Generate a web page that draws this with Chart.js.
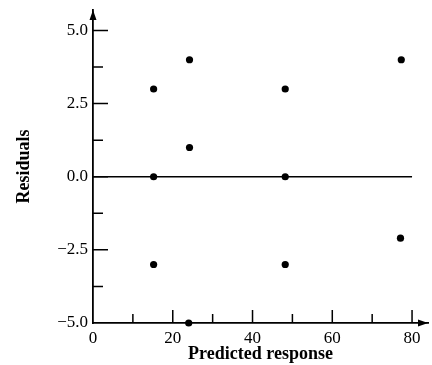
<!DOCTYPE html>
<html>
<head>
<meta charset="utf-8">
<script src="https://cdn.jsdelivr.net/npm/chart.js@4/dist/chart.umd.min.js"></script>
<style>
html,body{margin:0;padding:0;background:#fff;}
canvas{display:block;}
</style>
</head>
<body>
<canvas id="c" width="432" height="365"></canvas>
<script>
// ---- data ----
const predicted = [15.2, 15.2, 15.2, 24.2, 24.2, 24.0, 48.2, 48.2, 48.2, 77.3, 77.1];
const residuals = [3.0, 0.0, -3.0, 4.0, 1.0, -5.0, 3.0, 0.0, -3.0, 4.0, -2.1];
const xTickLabels = [0, 20, 40, 60, 80];
const xMinorTicks = [10, 30, 50, 70];
const yTickLabels = [-5, -2.5, 0, 2.5, 5];
const yMinorTicks = [-3.75, -1.25, 1.25, 3.75];
const zeroLineX = [0, 80];
const xTitle = 'Predicted response';
const yTitle = 'Residuals';

const serif = '"Liberation Serif", "DejaVu Serif", serif';

const points = predicted.map((x, i) => ({x: x, y: residuals[i]}));
const zeroLine = zeroLineX.map(x => ({x: x, y: 0}));

const axisDecor = {
  id: 'axisDecor',
  afterDatasetsDraw(chart) {
    const ctx = chart.ctx;
    const xs = chart.scales.x, ys = chart.scales.y;
    const x0 = xs.left, yb = ys.bottom;
    ctx.save();
    ctx.strokeStyle = '#000';
    ctx.fillStyle = '#000';
    ctx.lineWidth = 1.5;
    ctx.beginPath();
    xTickLabels.forEach(v => {
      if (v === xs.min) return;
      const px = xs.getPixelForValue(v);
      ctx.moveTo(px, yb); ctx.lineTo(px, yb - 13);
    });
    xMinorTicks.forEach(v => {
      const px = xs.getPixelForValue(v);
      ctx.moveTo(px, yb); ctx.lineTo(px, yb - 9);
    });
    yTickLabels.forEach(v => {
      if (v === ys.min) return;
      const py = ys.getPixelForValue(v);
      ctx.moveTo(x0, py); ctx.lineTo(x0 + 15, py);
    });
    yMinorTicks.forEach(v => {
      const py = ys.getPixelForValue(v);
      ctx.moveTo(x0, py); ctx.lineTo(x0 + 10, py);
    });
    ctx.stroke();
    // arrowheads
    const xr = xs.right, yt = ys.top;
    ctx.beginPath();
    ctx.moveTo(xr, yb); ctx.lineTo(xr - 10, yb - 3.5); ctx.lineTo(xr - 10, yb + 3.5); ctx.closePath();
    ctx.fill();
    ctx.beginPath();
    ctx.moveTo(x0, yt); ctx.lineTo(x0 - 3.5, yt + 10); ctx.lineTo(x0 + 3.5, yt + 10); ctx.closePath();
    ctx.fill();
    ctx.restore();
  }
};

new Chart(document.getElementById('c'), {
  type: 'scatter',
  data: {
    datasets: [
      {
        type: 'line',
        data: zeroLine,
        borderColor: '#000',
        borderWidth: 1.5,
        pointRadius: 0,
        fill: false,
        clip: false
      },
      {
        data: points,
        backgroundColor: '#000',
        borderColor: '#000',
        pointRadius: 3.6,
        borderWidth: 0,
        clip: false
      }
    ]
  },
  options: {
    responsive: false,
    animation: false,
    layout: {padding: {top: 10, right: 1, left: 0, bottom: 0}},
    plugins: {legend: {display: false}, tooltip: {enabled: false}},
    scales: {
      x: {
        type: 'linear',
        min: 0,
        max: 84,
        afterBuildTicks: s => { s.ticks = xTickLabels.map(v => ({value: v})); },
        afterFit: s => { s.height = 42; s.paddingLeft = 0; s.paddingRight = 0; },
        grid: {display: false, drawTicks: false},
        border: {display: true, color: '#000', width: 1.8},
        ticks: {
          color: '#000',
          font: {family: serif, size: 17},
          padding: 5,
          maxRotation: 0,
          autoSkip: false,
          callback: v => String(v)
        },
        title: {
          display: true,
          text: xTitle,
          color: '#000',
          font: {family: serif, size: 18, weight: 'bold'},
          padding: {top: 0, bottom: 0}
        }
      },
      y: {
        type: 'linear',
        min: -5,
        max: 5.7,
        afterBuildTicks: s => { s.ticks = yTickLabels.map(v => ({value: v})); },
        afterFit: s => { s.width = 93; s.paddingTop = 0; s.paddingBottom = 0; },
        grid: {display: false, drawTicks: false},
        border: {display: true, color: '#000', width: 1.8},
        ticks: {
          color: '#000',
          font: {family: serif, size: 17},
          padding: 5,
          autoSkip: false,
          callback: v => v.toFixed(1).replace('-', '\u2212')
        },
        title: {
          display: true,
          text: yTitle,
          color: '#000',
          font: {family: serif, size: 18, weight: 'bold'},
          padding: {top: 14, bottom: 0}
        }
      }
    }
  },
  plugins: [axisDecor]
});
</script>
</body>
</html>
